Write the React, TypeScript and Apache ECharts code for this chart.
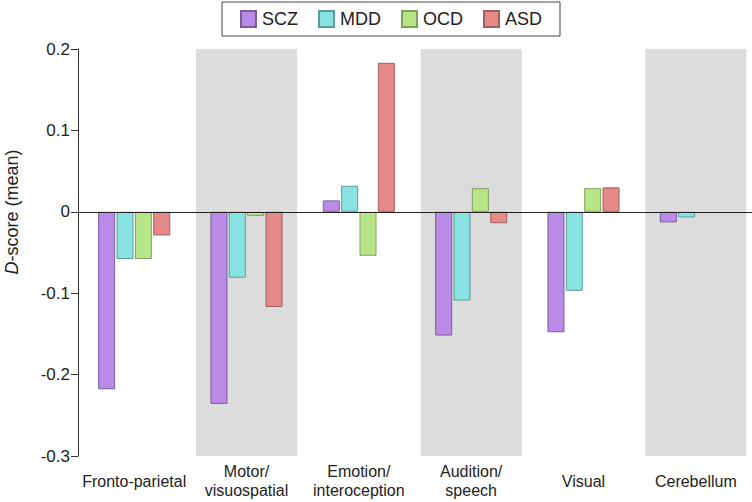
import React, { useEffect, useRef } from "react";
import * as echarts from "echarts";

const categories = [
  "Fronto-parietal",
  "Motor/\nvisuospatial",
  "Emotion/\ninteroception",
  "Audition/\nspeech",
  "Visual",
  "Cerebellum",
];
const shadedIndices = [1, 3, 5];
const sczValues = [-0.218, -0.236, 0.014, -0.152, -0.148, -0.013];
const mddValues = [-0.058, -0.081, 0.032, -0.109, -0.097, -0.007];
const ocdValues = [-0.058, -0.005, -0.054, 0.029, 0.029, null];
const asdValues = [-0.029, -0.117, 0.183, -0.014, 0.030, null];
const yTicks = [-0.3, -0.2, -0.1, 0, 0.1, 0.2];

const FONT = "Liberation Sans, Arial, Helvetica, sans-serif";
const TEXT = "#222";

export default function App() {
  const ref = useRef<HTMLDivElement>(null);
  useEffect(() => {
    if (!ref.current) return;
    const chart = echarts.init(ref.current, null, { renderer: "svg" });
    const barBase = {
      type: "bar",
      barWidth: 17,
      barGap: "8%",
      z: 3,
    };
    const mk = (name: string, data: any[], color: string, border: string) => ({
      ...barBase,
      name,
      data,
      itemStyle: { color, borderColor: border, borderWidth: 1 },
    });
    chart.setOption({
      animation: false,
      textStyle: { fontFamily: FONT },
      legend: {
        data: ["SCZ", "MDD", "OCD", "ASD"],
        top: 2,
        left: 222,
        itemWidth: 15,
        itemHeight: 16,
        itemGap: 20,
        padding: [8, 18, 8, 18],
        borderColor: "#444",
        borderWidth: 1,
        textStyle: { fontSize: 18, color: TEXT, fontFamily: FONT, width: 40, padding: [0, 0, 0, 1] },
        icon: "rect",
      },
      grid: { left: 78, top: 49, width: 675, height: 407, containLabel: false },
      xAxis: {
        type: "category",
        data: categories,
        axisLine: { show: true, lineStyle: { color: "#333", width: 1 } },
        axisTick: { show: false },
        axisLabel: {
          fontSize: 16,
          color: TEXT,
          fontFamily: FONT,
          verticalAlign: "middle",
          margin: 25,
          lineHeight: 19,
          interval: 0,
        },
        splitLine: { show: false },
      },
      yAxis: {
        type: "value",
        min: yTicks[0],
        max: yTicks[yTicks.length - 1],
        interval: 0.1,
        axisLine: { show: true, lineStyle: { color: "#333", width: 1 } },
        axisTick: { show: true, length: 7, lineStyle: { color: "#333" } },
        axisLabel: {
          fontSize: 17,
          color: TEXT,
          fontFamily: FONT,
          margin: 8,
          formatter: (v: number) => {
            const r = Math.round(v * 10) / 10;
            return r === 0 ? "0" : r.toFixed(1);
          },
        },
        splitLine: { show: false },
      },
      graphic: [
        {
          type: "text",
          x: 12,
          y: 212,
          rotation: Math.PI / 2,
          style: {
            text: "{i|D}-score (mean)",
            fontSize: 18,
            fontFamily: FONT,
            fill: TEXT,
            align: "center",
            verticalAlign: "middle",
            rich: { i: { fontStyle: "italic", fontSize: 18, fontFamily: FONT, fill: TEXT } },
          },
        },
      ],
      series: [
        {
          type: "custom",
          name: "bands",
          z: 0,
          silent: true,
          data: shadedIndices.map((i) => [i]),
          encode: { x: 0 },
          renderItem: (params: any, api: any) => {
            const idx = api.value(0);
            const top = api.coord([idx, yTicks[yTicks.length - 1]]);
            const bot = api.coord([idx, yTicks[0]]);
            const w = api.size([1, 0])[0] * 0.9;
            return {
              type: "rect",
              shape: { x: top[0] - w / 2, y: top[1], width: w, height: bot[1] - top[1] },
              style: { fill: "#dcdcdc" },
            };
          },
        },
        {
          ...mk("SCZ", sczValues, "#b98ae6", "#7c5c9c"),
          markLine: {
            silent: true,
            symbol: "none",
            label: { show: false },
            lineStyle: { color: "#222", width: 1, type: "solid" },
            data: [{ yAxis: 0 }],
            z: 5,
          },
        },
        mk("MDD", mddValues, "#8ae3e3", "#5e9b9b"),
        mk("OCD", ocdValues, "#b8e588", "#80a05e"),
        mk("ASD", asdValues, "#e58a88", "#9e605e"),
      ],
    });
    return () => chart.dispose();
  }, []);
  return (
    <div
      ref={ref}
      style={{ position: "fixed", left: 0, top: 0, width: 752, height: 502, background: "#fff" }}
    />
  );
}
